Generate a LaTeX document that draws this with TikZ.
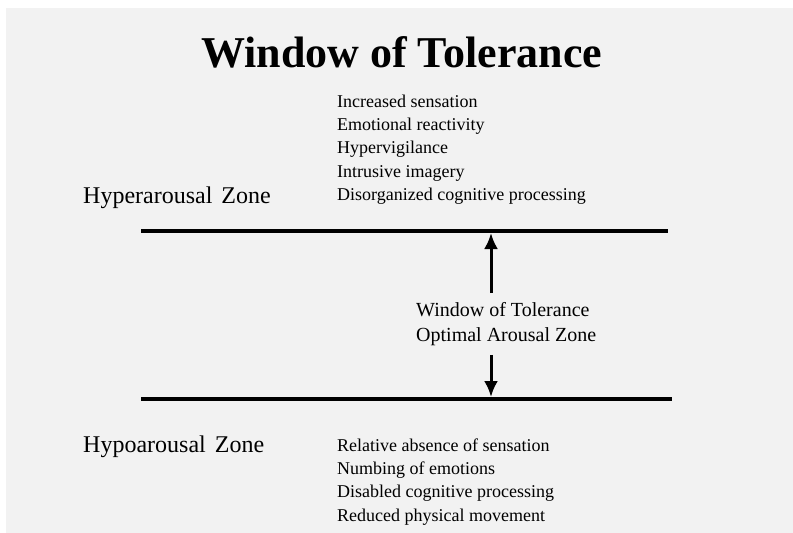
\documentclass[tikz,border=0pt]{standalone}
\usepackage{fontspec}
\setmainfont{Liberation Serif}
\usetikzlibrary{positioning, arrows.meta}
\definecolor{bggray}{HTML}{F2F2F2}
\tikzstyle{title} = [anchor=base west, inner sep=0pt, font=\fontsize{44}{50}\selectfont\bfseries]
\tikzstyle{zone} = [anchor=base west, inner sep=0pt, font=\fontsize{24}{28}\selectfont]
\tikzstyle{item} = [anchor=west, inner xsep=0pt, inner ysep=2.5pt, text height=13pt, text depth=5pt, font=\fontsize{18}{22}\selectfont]
\tikzstyle{mid} = [anchor=west, align=left, inner xsep=0pt, inner ysep=9pt, font=\fontsize{20}{25}\selectfont]
\tikzstyle{bar} = [line width=4pt]
\tikzstyle{arrow} = [line width=3pt, -{Latex[length=16pt, width=14pt]}]

\begin{document}
\begin{tikzpicture}[x=1pt, y=-1pt]
% Background
\fill[white] (0,0) rectangle (793,533);
\fill[bggray] (6,8) rectangle (793,533);
\useasboundingbox (0,0) rectangle (793,533);

% Drawing nodes
\node (title) [title] at (201,67) {Window of Tolerance};
\node (hyper) [zone] at (83,203) {Hyperarousal\hspace{3pt} Zone};
\node (hypo) [zone] at (83,452) {Hypoarousal\hspace{3pt} Zone};

\node (hyp1) [item] at (337,103) {Increased sensation};
\node (hyp2) [item, below=0pt of hyp1.south west, anchor=north west] {Emotional reactivity};
\node (hyp3) [item, below=0pt of hyp2.south west, anchor=north west] {Hypervigilance};
\node (hyp4) [item, below=0pt of hyp3.south west, anchor=north west] {Intrusive imagery};
\node (hyp5) [item, below=0pt of hyp4.south west, anchor=north west] {Disorganized cognitive processing};

\node (low1) [item] at (337,447) {Relative absence of sensation};
\node (low2) [item, below=0pt of low1.south west, anchor=north west] {Numbing of emotions};
\node (low3) [item, below=0pt of low2.south west, anchor=north west] {Disabled cognitive processing};
\node (low4) [item, below=0pt of low3.south west, anchor=north west] {Reduced physical movement};

\node (wot) [mid] at (416,324) {Window of Tolerance\\Optimal Arousal Zone};

% Drawing lines
\coordinate (topL) at (141,231);
\coordinate (topR) at (668,231);
\coordinate (botL) at (141,399);
\coordinate (botR) at (672,399);
\coordinate (topM) at (491,233);
\coordinate (botM) at (491,397);
\draw [bar] (topL) -- (topR);
\draw [bar] (botL) -- (botR);

% Drawing arrows
\draw [arrow] (wot.north -| topM) -- (topM);
\draw [arrow] (wot.south -| botM) -- (botM);
\end{tikzpicture}
\end{document}
